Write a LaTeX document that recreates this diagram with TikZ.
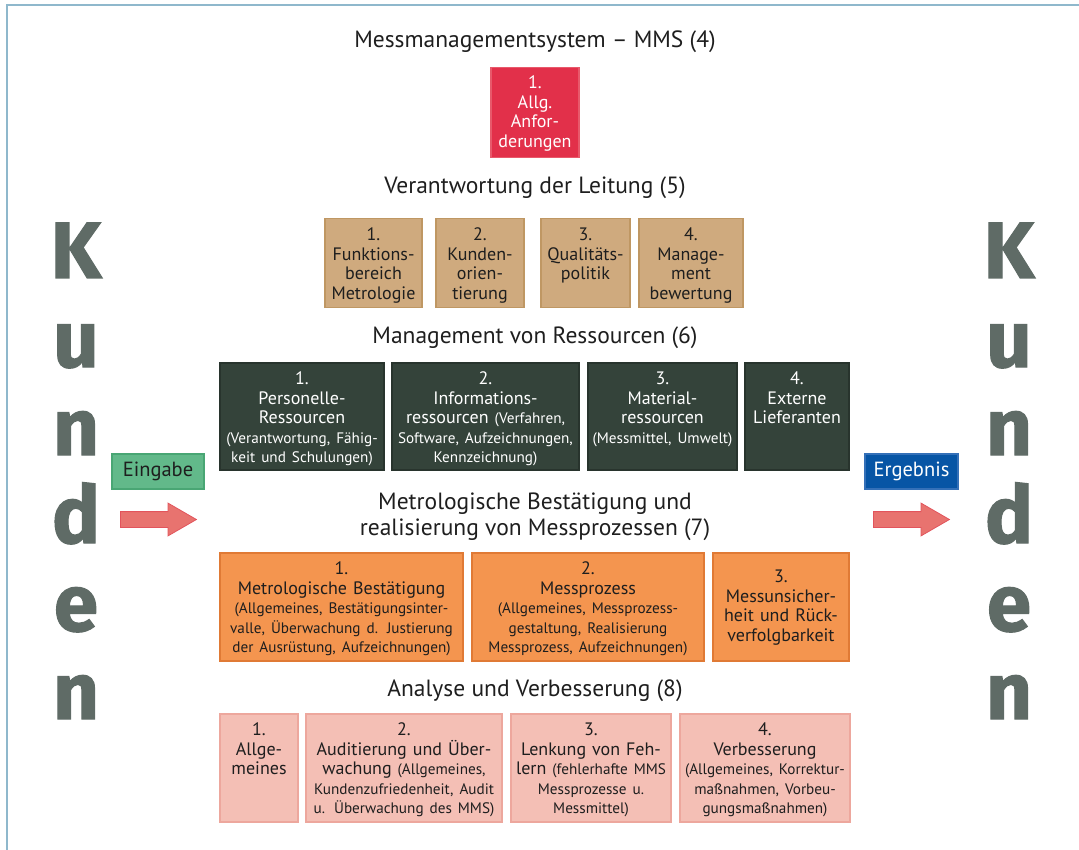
\documentclass[tikz,border=0pt]{standalone}
\usepackage{fontspec}
\setmainfont{PT Sans}
\newfontfamily\kundenfont{Fira Sans Bold}[FakeBold=1.3]
\usetikzlibrary{shapes.arrows}
\definecolor{mmsrot}{HTML}{E2304A}
\definecolor{mmsrotrand}{HTML}{E8596B}
\definecolor{leitung}{HTML}{CFAA7E}
\definecolor{leitungrand}{HTML}{BF9763}
\definecolor{ressource}{HTML}{34433A}
\definecolor{ressourcerand}{HTML}{28342D}
\definecolor{prozess}{HTML}{F4954F}
\definecolor{prozessrand}{HTML}{E07A35}
\definecolor{analyse}{HTML}{F4BFB5}
\definecolor{analyserand}{HTML}{EDA79D}
\definecolor{eingabe}{HTML}{62B98A}
\definecolor{eingaberand}{HTML}{49A674}
\definecolor{ergebnis}{HTML}{0755A5}
\definecolor{ergebnisrand}{HTML}{3470B8}
\definecolor{pfeil}{HTML}{E8736F}
\definecolor{pfeilrand}{HTML}{E2545C}
\definecolor{kunde}{HTML}{5F6B66}
\definecolor{rahmen}{HTML}{8FB8CC}
\definecolor{schrift}{HTML}{1E1E1E}
\newcommand{\klein}{\fontsize{15.2}{19}\selectfont}
\begin{document}
\begin{tikzpicture}[x=1pt,y=-1pt,
    titel/.style={anchor=base,text=schrift,font=\fontsize{23.5}{26}\selectfont},
    kasten/.style={anchor=north,rectangle,line width=1.5pt,inner xsep=0pt,inner ysep=0pt,
      align=center,text=schrift,font=\fontsize{18}{19.5}\selectfont,
      text height=22pt,text depth=#1},
    rotbox/.style={kasten=69pt,fill=mmsrot,draw=mmsrotrand,text=white,text height=21pt},
    leitbox/.style={kasten=67pt,fill=leitung,draw=leitungrand},
    resbox/.style={kasten=85pt,fill=ressource,draw=ressourcerand,text=white},
    probox/.style={kasten=86pt,fill=prozess,draw=prozessrand},
    anabox/.style={kasten=86pt,fill=analyse,draw=analyserand},
    marke/.style={rectangle,line width=1.5pt,minimum width=92pt,minimum height=35pt,
      font=\fontsize{20.5}{22}\selectfont},
    dickpfeil/.style={single arrow,anchor=west,fill=pfeil,draw=pfeilrand,line width=0.8pt,
      inner sep=7.5pt,single arrow head extend=8.5pt,single arrow tip angle=60,
      minimum height=76pt},
    kunden/.style={anchor=base,text=kunde,font=\kundenfont\fontsize{80}{80}\selectfont}]
  \useasboundingbox (0,0) rectangle (1079,850);
  \draw[rahmen,line width=2.5pt] (7,850) -- (7,5) -- (1079,5);
  \draw
    (535,48) node[titel] (t4) {Messmanagementsystem – MMS (4)}
    (535,194) node[titel] (t5) {Verantwortung der Leitung (5)}
    (535,343) node[titel] (t6) {Management von Ressourcen (6)}
    (535,509) node[titel] (t7a) {Metrologische Bestätigung und}
    (535,535) node[titel] (t7b) {realisierung von Messprozessen (7)}
    (535,696) node[titel] (t8) {Analyse und Verbesserung (8)};
  \draw
    (535,67) node[rotbox,text width=88pt] (mms1) {1.\\Allg.\\Anfor-\\derungen};
  \draw
    (373.5,218) node[leitbox,text width=97pt] (vl1) {1.\\Funktions-\\bereich\\Metrologie}
    (480,218) node[leitbox,text width=88pt] (vl2) {2.\\Kunden-\\orien-\\tierung}
    (585.5,218) node[leitbox,text width=89pt] (vl3) {3.\\Qualitäts-\\politik}
    (691,218) node[leitbox,text width=104pt] (vl4) {4.\\Manage-\\ment\\bewertung};
  \draw
    (302,362) node[resbox,text width=164pt] (res1) {1.\\Personelle-\\Ressourcen\\{\klein(Verantwortung, Fähig-}\\{\klein keit und Schulungen)}}
    (485.5,362) node[resbox,text width=187pt] (res2) {2.\\Informations-\\ressourcen {\klein(Verfahren,}\\{\klein Software, Aufzeichnungen,}\\{\klein Kennzeichnung)}}
    (662.5,362) node[resbox,text width=149pt] (res3) {3.\\Material-\\ressourcen\\{\klein(Messmittel, Umwelt)}}
    (797,362) node[resbox,text width=104pt] (res4) {4.\\Externe\\Lieferanten};
  \draw
    (341.5,552) node[probox,text width=243pt] (mp1) {1.\\Metrologische Bestätigung\\{\klein(Allgemeines, Bestätigungsinter-}\\{\klein valle, Überwachung d. Justierung}\\{\klein der Ausrüstung, Aufzeichnungen)}}
    (588,552) node[probox,text width=232pt] (mp2) {2.\\Messprozess\\{\klein(Allgemeines, Messprozess-}\\{\klein gestaltung, Realisierung}\\{\klein Messprozess, Aufzeichnungen)}}
    (781,552) node[probox,text width=136pt,text height=30pt,text depth=78pt] (mp3) {3.\\Messunsicher-\\heit und Rück-\\verfolgbarkeit};
  \draw
    (259,713) node[anabox,text width=78pt] (av1) {1.\\Allge-\\meines}
    (404,713) node[anabox,text width=196pt] (av2) {2.\\Auditierung und Über-\\wachung {\klein(Allgemeines,}\\{\klein Kundenzufriedenheit, Audit}\\{\klein u. Überwachung des MMS)}}
    (591,713) node[anabox,text width=160pt] (av3) {3.\\Lenkung von Feh-\\lern {\klein(fehlerhafte MMS}\\{\klein Messprozesse u.}\\{\klein Messmittel)}}
    (765,713) node[anabox,text width=170pt] (av4) {4.\\Verbesserung\\{\klein(Allgemeines, Korrektur-}\\{\klein maßnahmen, Vorbeu-}\\{\klein gungsmaßnahmen)}};
  \draw
    (158,471.5) node[marke,fill=eingabe,draw=eingaberand,text=schrift] (ein) {Eingabe}
    (911.5,471.5) node[marke,fill=ergebnis,draw=ergebnisrand,text=white,minimum width=93pt] (erg) {Ergebnis}
    (120,519.5) node[dickpfeil] (pfeilL) {}
    (873,519.5) node[dickpfeil] (pfeilR) {};
  \draw
    (76,278) node[kunden] (kl1) {K}
    (76,367) node[kunden] (kl2) {u}
    (76,455) node[kunden] (kl3) {n}
    (76,543) node[kunden] (kl4) {d}
    (76,631) node[kunden] (kl5) {e}
    (76,719) node[kunden] (kl6) {n}
    (1009,278) node[kunden] (kr1) {K}
    (1009,367) node[kunden] (kr2) {u}
    (1009,455) node[kunden] (kr3) {n}
    (1009,543) node[kunden] (kr4) {d}
    (1009,631) node[kunden] (kr5) {e}
    (1009,719) node[kunden] (kr6) {n};
\end{tikzpicture}
\end{document}
